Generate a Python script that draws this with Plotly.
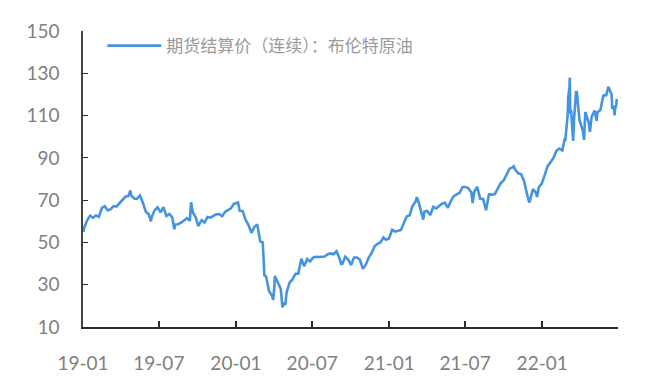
import plotly.graph_objects as go

# Brent crude futures settlement price (continuous contract), USD/bbl
dates = [
    "2019-01-02", "2019-01-04", "2019-01-11", "2019-01-18", "2019-01-25", "2019-02-01",
    "2019-02-08", "2019-02-15", "2019-02-22", "2019-03-01", "2019-03-08", "2019-03-15",
    "2019-03-22", "2019-03-29", "2019-04-05", "2019-04-12", "2019-04-19", "2019-04-24",
    "2019-04-26", "2019-05-03", "2019-05-10", "2019-05-17", "2019-05-24", "2019-05-31",
    "2019-06-07", "2019-06-12", "2019-06-14", "2019-06-21", "2019-06-28", "2019-07-05",
    "2019-07-12", "2019-07-19", "2019-07-26", "2019-08-02", "2019-08-07", "2019-08-09",
    "2019-08-16", "2019-08-23", "2019-08-30", "2019-09-06", "2019-09-13", "2019-09-16",
    "2019-09-20", "2019-09-27", "2019-10-03", "2019-10-11", "2019-10-18", "2019-10-25",
    "2019-11-01", "2019-11-08", "2019-11-15", "2019-11-22", "2019-11-29", "2019-12-06",
    "2019-12-13", "2019-12-20", "2019-12-27",
    "2020-01-03", "2020-01-06", "2020-01-10", "2020-01-17", "2020-01-24", "2020-01-31",
    "2020-02-07", "2020-02-14", "2020-02-21", "2020-02-28", "2020-03-05", "2020-03-06",
    "2020-03-09", "2020-03-13", "2020-03-18", "2020-03-20", "2020-03-27", "2020-03-30",
    "2020-04-02", "2020-04-03", "2020-04-09", "2020-04-17", "2020-04-21", "2020-04-24",
    "2020-04-28", "2020-05-01", "2020-05-08", "2020-05-15", "2020-05-22", "2020-05-29",
    "2020-06-05", "2020-06-12", "2020-06-19", "2020-06-26", "2020-07-03", "2020-07-10",
    "2020-07-17", "2020-07-24", "2020-07-31", "2020-08-07", "2020-08-14", "2020-08-21",
    "2020-08-28", "2020-09-04", "2020-09-08", "2020-09-11", "2020-09-18", "2020-09-25",
    "2020-10-02", "2020-10-09", "2020-10-16", "2020-10-23", "2020-10-30", "2020-11-06",
    "2020-11-13", "2020-11-20", "2020-11-27", "2020-12-04", "2020-12-11", "2020-12-18",
    "2020-12-24", "2020-12-31",
    "2021-01-08", "2021-01-15", "2021-01-22", "2021-01-29", "2021-02-05", "2021-02-12",
    "2021-02-19", "2021-02-25", "2021-03-05", "2021-03-08", "2021-03-12", "2021-03-19",
    "2021-03-23", "2021-03-26", "2021-04-01", "2021-04-09", "2021-04-16", "2021-04-23",
    "2021-04-30", "2021-05-07", "2021-05-14", "2021-05-21", "2021-05-28", "2021-06-04",
    "2021-06-11", "2021-06-18", "2021-06-25", "2021-07-02", "2021-07-09", "2021-07-16",
    "2021-07-19", "2021-07-23", "2021-07-30", "2021-08-06", "2021-08-13", "2021-08-20",
    "2021-08-27", "2021-09-03", "2021-09-10", "2021-09-17", "2021-09-24", "2021-10-01",
    "2021-10-08", "2021-10-15", "2021-10-22", "2021-10-25", "2021-10-29", "2021-11-05",
    "2021-11-12", "2021-11-19", "2021-11-26", "2021-12-01", "2021-12-03", "2021-12-10",
    "2021-12-17", "2021-12-20", "2021-12-24", "2021-12-31",
    "2022-01-07", "2022-01-14", "2022-01-21", "2022-01-28", "2022-02-04", "2022-02-11",
    "2022-02-18", "2022-02-24", "2022-02-25", "2022-03-01", "2022-03-03", "2022-03-04",
    "2022-03-07", "2022-03-08", "2022-03-09", "2022-03-11", "2022-03-16", "2022-03-18",
    "2022-03-23", "2022-03-25", "2022-03-31", "2022-04-08", "2022-04-11", "2022-04-14",
    "2022-04-22", "2022-04-25", "2022-04-29", "2022-05-06", "2022-05-11", "2022-05-13",
    "2022-05-20", "2022-05-27", "2022-06-03", "2022-06-08", "2022-06-14", "2022-06-16",
    "2022-06-17", "2022-06-21", "2022-06-23", "2022-06-24", "2022-06-27", "2022-06-28",
]

prices = [
    54.9, 57.1, 60.5, 62.7, 61.6, 62.8,
    62.1, 66.3, 67.1, 65.1, 65.7, 67.2,
    67.0, 68.4, 70.3, 71.6, 71.9, 74.6,
    72.2, 70.8, 70.6, 72.2, 68.7, 64.5,
    63.3, 60.0, 62.0, 65.2, 66.6, 64.2,
    66.7, 62.5, 63.5, 61.9, 56.2, 58.5,
    58.6, 59.3, 60.4, 61.5, 60.2, 69.0,
    64.3, 61.9, 57.7, 60.5, 59.4, 62.0,
    61.7, 62.5, 63.3, 63.4, 62.4, 64.4,
    65.2, 66.1, 68.2,
    68.6, 68.9, 65.0, 64.9, 60.7, 58.2,
    54.5, 57.3, 58.5, 50.5, 50.0, 45.3,
    34.4, 33.9, 28.7, 27.0, 24.9, 22.8,
    29.9, 34.1, 31.5, 28.1, 19.3, 21.4,
    20.5, 26.4, 31.0, 32.5, 35.1, 35.3,
    42.3, 38.7, 42.2, 41.0, 42.8, 43.2,
    43.1, 43.3, 43.3, 44.4, 44.8, 44.4,
    45.8, 42.7, 39.8, 39.8, 43.2, 41.9,
    39.3, 42.9, 42.9, 41.8, 37.5, 39.5,
    42.8, 45.0, 48.2, 49.3, 50.0, 52.3,
    51.3, 51.8,
    56.0, 55.1, 55.4, 55.9, 59.3, 62.4,
    62.9, 67.0, 69.4, 71.4, 69.2, 64.5,
    60.8, 64.6, 64.9, 63.0, 66.8, 66.1,
    67.3, 68.3, 68.7, 66.4, 69.6, 71.9,
    72.7, 73.5, 76.2, 76.2, 75.6, 73.6,
    68.6, 74.1, 76.3, 70.7, 70.6, 65.2,
    72.7, 72.6, 72.9, 75.3, 78.1, 79.3,
    82.4, 84.9, 85.5, 86.0, 84.4, 82.7,
    82.2, 78.9, 72.7, 68.9, 69.9, 75.2,
    73.5, 71.5, 76.1, 77.8,
    81.8, 86.1, 87.9, 90.0, 93.3, 94.4,
    93.5, 99.1, 97.9, 105.0, 110.5, 118.1,
    123.2, 128.0, 111.1, 112.7, 98.0, 107.9,
    121.6, 120.7, 107.9, 102.8, 98.5, 111.7,
    106.7, 102.3, 109.3, 112.4, 107.5, 111.6,
    112.6, 119.4, 119.7, 123.6, 121.2, 119.8,
    113.1, 114.7, 110.1, 113.1, 115.1, 117.9,
]

series_name = "期货结算价（连续）：布伦特原油"

tick_dates = ["2019-01-01", "2019-07-01", "2020-01-01", "2020-07-01",
              "2021-01-01", "2021-07-01", "2022-01-01", "2022-07-01"]
tick_text = ["19-01", "19-07", "20-01", "20-07", "21-01", "21-07", "22-01", ""]
y_ticks = [10, 30, 50, 70, 90, 110, 130, 150]

line_color = "#4694DF"
label_color = "#808080"
axis_color = "#2b2b2b"

fig = go.Figure()
fig.add_trace(go.Scatter(
    x=dates, y=prices, mode="lines", name=series_name,
    line=dict(color=line_color, width=2.6),
    showlegend=True,
))

fig.update_layout(
    width=650, height=381,
    margin=dict(l=83, r=32, t=31, b=54),
    paper_bgcolor="white", plot_bgcolor="white",
    font=dict(family="Lato", size=19, color=label_color),
    showlegend=True,
    legend=dict(
        x=0.036, y=1.01, xanchor="left", yanchor="top",
        bgcolor="rgba(0,0,0,0)", borderwidth=0,
        itemwidth=54,
        font=dict(family="Noto Sans CJK SC", size=17, color="#9A9A9A"),
    ),
)

fig.update_xaxes(
    type="date", range=["2019-01-01", "2022-07-01"],
    tickvals=tick_dates, ticktext=tick_text,
    ticks="inside", ticklen=6, tickwidth=1.5, tickcolor=axis_color,
    showline=True, linecolor=axis_color, linewidth=2.2,
    showgrid=False, zeroline=False, automargin=False,
    ticklabelstandoff=18,
    tickfont=dict(family="Lato", size=19, color=label_color),
)
fig.update_yaxes(
    range=[10, 150], tickvals=y_ticks,
    ticks="inside", ticklen=5, tickwidth=1.2, tickcolor=axis_color,
    showline=True, linecolor="#444444", linewidth=1.5,
    showgrid=False, zeroline=False, automargin=False,
    ticklabelstandoff=18,
    tickfont=dict(family="Lato", size=19, color=label_color),
)

fig.write_html("out.html")
